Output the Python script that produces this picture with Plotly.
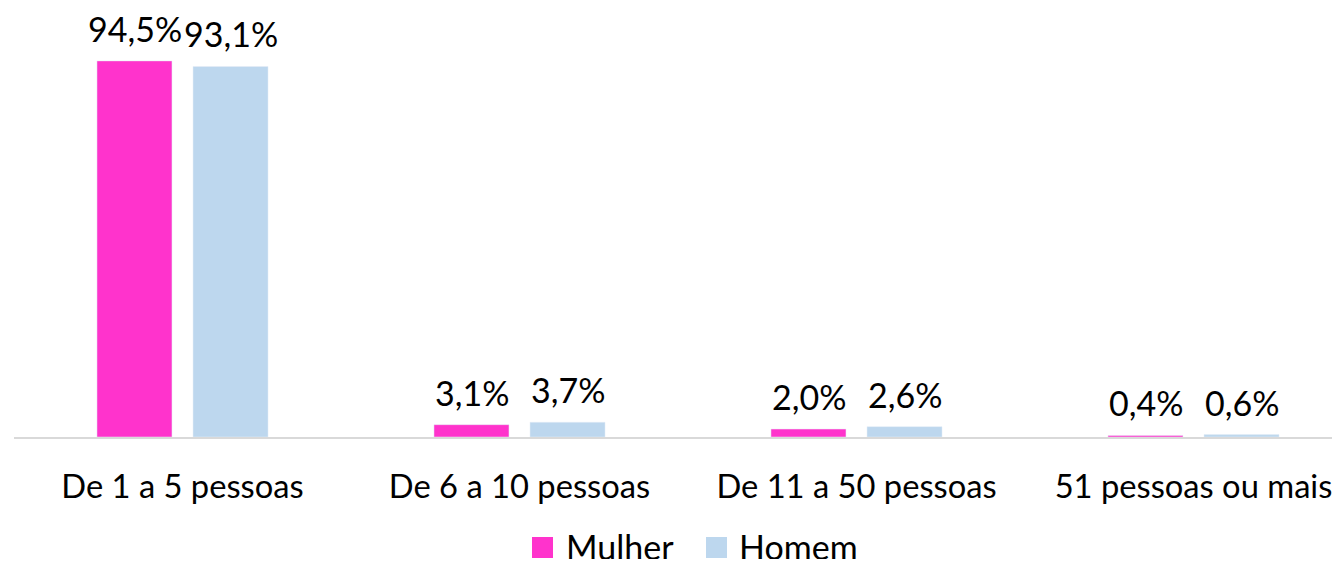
import plotly.graph_objects as go

categories = ["De 1 a 5 pessoas", "De 6 a 10 pessoas", "De 11 a 50 pessoas", "51 pessoas ou mais"]
mulher = [94.5, 3.1, 2.0, 0.4]
homem = [93.1, 3.7, 2.6, 0.6]
series_names = ["Mulher", "Homem"]
series_values = [mulher, homem]
series_colors = ["#FF33CC", "#BDD7EE"]

def fmt(v):
    return f"{v:.1f}%".replace(".", ",")

FONT = "Lato, Carlito, Calibri, sans-serif"
FS = 34
TICK_FS = 32.7

# layout geometry (figure pixels)
W, H = 1324, 551
L, T, B = 6, 31, 122
PW = W - L
PH = H - T - B
CAT_PX = 337.0
BAR_SHIFT = [-48, 48]
legend_sq_px = [(524, 545), (698, 719)]
legend_txt_px = [556, 729]
legend_sq_y = (529, 550)
legend_txt_y = 538.5

def px_to_paper_x(px):
    return (px - L) / PW

def px_to_paper_y(py):
    return (H - B - py) / PH

fig = go.Figure()
annotations = []
shapes = []
for i, (name, vals, color) in enumerate(zip(series_names, series_values, series_colors)):
    fig.add_trace(go.Bar(name=name, x=categories, y=vals, marker_color=color,
                         showlegend=False, cliponaxis=False))
    for c, v in zip(categories, vals):
        annotations.append(dict(x=c, y=v, text=fmt(v), showarrow=False, xshift=BAR_SHIFT[i],
                                yshift=10, yanchor="bottom",
                                font=dict(size=FS, color="#000000", family=FONT)))
    # legend entry
    shapes.append(dict(type="rect", xref="paper", yref="paper",
                       x0=px_to_paper_x(legend_sq_px[i][0]), x1=px_to_paper_x(legend_sq_px[i][1]),
                       y0=px_to_paper_y(legend_sq_y[1]), y1=px_to_paper_y(legend_sq_y[0]),
                       fillcolor=color, line=dict(width=0)))
    annotations.append(dict(xref="paper", yref="paper", x=px_to_paper_x(legend_txt_px[i]),
                            y=px_to_paper_y(legend_txt_y), xanchor="left", yanchor="middle",
                            text=name, showarrow=False,
                            font=dict(size=FS, color="#000000", family=FONT)))

fig.update_layout(
    width=W, height=H,
    margin=dict(l=L, r=0, t=T, b=B, pad=0),
    plot_bgcolor="white", paper_bgcolor="white",
    barmode="group", bargap=0.430, bargroupgap=0.219,
    font=dict(family=FONT, size=FS, color="#000000"),
    annotations=annotations, shapes=shapes,
    showlegend=False,
)
fig.update_xaxes(range=[-0.5, -0.5 + PW / CAT_PX], showline=True, linecolor="#d9d9d9",
                 linewidth=1.5, ticks="", showgrid=False, tickfont=dict(size=TICK_FS),
                 ticklabelstandoff=20, automargin=False)
fig.update_yaxes(range=[0, 100], visible=False, showgrid=False, automargin=False)

fig.write_html("out.html")
